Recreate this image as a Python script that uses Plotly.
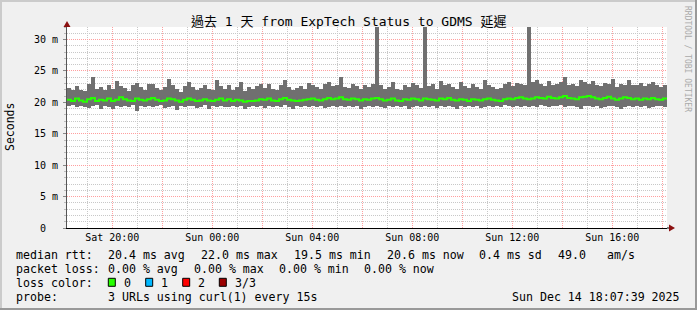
import plotly.graph_objects as go
import pandas as pd

# ---------------- data ----------------
TITLE = "過去 1 天 from ExpTech Status to GDMS 延遲"
START = "2025-12-13 18:11:20"
STEP_SECONDS = 576  # one sample every 9.6 minutes (150 samples over 24 h)

MEDIAN_MS = [
    20.4, 20.2, 20.6, 20.3, 20.1, 20.5, 20.7, 20.2, 20.4, 20.3,
    20.6, 20.2, 20.4, 20.8, 20.5, 20.3, 20.2, 20.6, 20.4, 20.3,
    20.5, 20.7, 20.4, 20.2, 20.3, 20.6, 20.5, 20.3, 20.1, 20.4,
    20.6, 20.4, 20.2, 20.3, 20.5, 20.3, 20.2, 20.4, 20.6, 20.3,
    20.5, 20.2, 20.4, 20.3, 20.1, 20.2, 20.2, 20.3, 20.5, 20.4,
    20.6, 20.3, 20.2, 20.5, 20.7, 20.4, 20.3, 20.2, 20.3, 20.4,
    20.5, 20.6, 20.4, 20.3, 20.5, 20.7, 20.5, 20.6, 20.8, 20.5,
    20.4, 20.6, 20.5, 20.3, 20.5, 20.4, 20.6, 20.7, 20.5, 20.3,
    20.4, 20.6, 20.3, 20.2, 20.5, 20.4, 20.6, 20.5, 20.3, 20.6,
    20.5, 20.4, 20.3, 20.6, 20.5, 20.7, 20.4, 20.3, 20.5, 20.4,
    20.2, 20.5, 20.4, 20.3, 20.5, 20.6, 20.4, 20.3, 20.2, 20.5,
    20.6, 20.5, 20.7, 20.8, 20.6, 20.5, 20.6, 20.8, 20.7, 20.6,
    20.9, 20.7, 20.6, 20.8, 21.0, 20.7, 20.6, 20.5, 20.8, 20.9,
    21.0, 20.8, 20.6, 20.5, 20.7, 20.9, 20.6, 20.4, 20.6, 20.8,
    20.7, 20.5, 20.6, 20.4, 20.6, 20.5, 20.7, 20.5, 20.4, 20.6,
]

MAX_MS = [
    22.3, 21.9, 22.6, 22.0, 21.8, 22.9, 24.0, 22.2, 22.5, 21.9,
    22.8, 22.1, 23.4, 22.6, 22.3, 21.8, 22.7, 23.1, 22.4, 22.0,
    22.9, 23.0, 22.3, 21.9, 22.5, 23.8, 22.7, 22.2, 21.7, 22.6,
    23.2, 22.4, 22.0, 22.3, 22.8, 22.1, 21.9, 23.6, 22.6, 22.2,
    22.7, 22.0, 22.5, 23.3, 21.8, 22.4, 22.1, 22.6, 23.0, 22.3,
    22.9, 22.2, 21.9, 22.7, 23.5, 22.4, 22.0, 22.3, 22.6, 22.1,
    23.1, 22.8, 22.4, 22.2, 22.9, 23.2, 22.6, 22.7, 24.0, 22.5,
    22.3, 23.0, 22.6, 22.1, 22.8, 22.4, 22.9, 40.0, 22.7, 22.2,
    22.5, 23.3, 22.2, 22.0, 22.8, 22.4, 23.1, 22.7, 22.3, 40.0,
    22.6, 22.9, 22.2, 23.4, 22.7, 23.0, 22.4, 22.1, 23.2, 22.6,
    22.3, 22.9, 22.5, 22.2, 23.5, 22.8, 22.4, 22.1, 22.3, 22.9,
    23.3, 22.6, 23.1, 23.0, 22.7, 40.0, 23.2, 23.6, 22.9, 22.6,
    23.4, 22.8, 22.9, 23.2, 24.1, 22.7, 23.0, 22.6, 23.5, 23.3,
    23.0, 23.4, 22.8, 22.6, 23.1, 22.9, 23.7, 22.5, 23.0, 22.7,
    23.6, 22.8, 22.7, 23.1, 22.6, 22.9, 23.3, 22.7, 22.5, 22.8,
]

MIN_MS = [
    19.4, 19.6, 19.2, 19.5, 19.3, 19.1, 19.4, 19.6, 19.0, 19.5,
    19.3, 18.9, 19.4, 19.2, 19.5, 19.3, 19.6, 18.7, 19.4, 19.3,
    19.5, 19.2, 19.4, 19.6, 19.1, 19.3, 19.5, 18.8, 19.4, 19.2,
    19.4, 19.5, 19.1, 19.3, 19.6, 19.0, 19.4, 19.2, 19.5, 19.3,
    19.3, 19.5, 19.2, 19.4, 18.9, 19.3, 19.5, 19.2, 19.4, 19.1,
    19.4, 19.2, 19.5, 19.3, 19.6, 19.2, 19.0, 19.4, 19.3, 19.5,
    19.3, 19.5, 19.2, 19.4, 19.1, 19.3, 19.5, 19.2, 19.4, 19.3,
    19.5, 19.2, 19.4, 19.0, 19.3, 19.5, 19.2, 19.4, 19.3, 19.1,
    19.4, 19.3, 19.5, 19.2, 19.4, 18.9, 19.3, 19.5, 19.2, 19.4,
    19.3, 19.5, 19.1, 19.4, 19.2, 19.5, 19.3, 19.0, 19.4, 19.2,
    19.5, 19.3, 19.4, 19.1, 19.3, 19.5, 19.2, 19.4, 19.3, 19.6,
    19.4, 19.2, 19.5, 19.3, 19.4, 19.2, 19.5, 19.3, 19.6, 19.4,
    19.3, 19.5, 19.4, 19.6, 19.2, 19.4, 19.5, 19.3, 19.0, 19.4,
    19.5, 19.3, 19.4, 19.1, 19.3, 19.5, 19.4, 19.2, 18.9, 19.3,
    19.4, 19.2, 19.5, 19.3, 19.4, 19.1, 19.3, 19.5, 19.4, 19.2,
]

Y_TICK_VALUES = [0, 5, 10, 15, 20, 25, 30]
Y_TICK_LABELS = ["0\u00a0\u00a0", "5 m", "10 m", "15 m", "20 m", "25 m", "30 m"]
X_TICK_LABELS = ["Sat 20:00", "", "Sun 00:00", "", "Sun 04:00", "", "Sun 08:00", "",
                 "Sun 12:00", "", "Sun 16:00", ""]
X_FIRST_TICK = "2025-12-13 20:00"

RTT_LABEL = "median rtt:"
RTT_ITEMS = ["20.4 ms avg", "22.0 ms max", "19.5 ms min", "20.6 ms now", "0.4 ms sd", "49.0", "am/s"]
LOSS_LABEL = "packet loss:"
LOSS_ITEMS = ["0.00 % avg", "0.00 % max", "0.00 % min", "0.00 % now"]
COLOR_LABEL = "loss color:"
LOSS_LABELS = ["0", "1", "2", "3/3"]
LOSS_COLORS = ["#26ff00", "#00b8ff", "#ff0000", "#9c0000"]
PROBE_LABEL = "probe:"
PROBE_TEXT = "3 URLs using curl(1) every 15s"
STAMP = "Sun Dec 14 18:07:39 2025"
WATERMARK = "RRDTOOL / TOBI OETIKER"
Y_TITLE = "Seconds"

# ---------------- geometry helpers ----------------
W_FIG, H_FIG = 697, 310
PL, PR, PT, PB = 67, 30, 27, 82
PW = W_FIG - PL - PR
PH = H_FIG - PT - PB


def px(x):
    return (x - PL) / PW


def py(y):
    return (PT + PH - y) / PH


MONO = "DejaVu Sans Mono, Noto Sans CJK TC, monospace"

start = pd.Timestamp(START)
step = pd.Timedelta(seconds=STEP_SECONDS)
n = len(MEDIAN_MS)
end = start + step * n
centers = [start + step * (i + 0.5) for i in range(n)]
lefts = [start + step * i for i in range(n)] + [end]

fig = go.Figure()

# smoke (min..max range)
fig.add_trace(go.Bar(
    x=centers,
    base=MIN_MS,
    y=[h - l for h, l in zip(MAX_MS, MIN_MS)],
    width=step.total_seconds() * 1000,
    marker=dict(color="#707070", line=dict(width=0)),
    hoverinfo="skip",
    showlegend=False,
))

# median line
fig.add_trace(go.Scatter(
    x=lefts,
    y=MEDIAN_MS + [MEDIAN_MS[-1]],
    mode="lines",
    line=dict(color="#26ff00", width=2, shape="hv"),
    hoverinfo="skip",
    showlegend=False,
))

x_ticks = [pd.Timestamp(X_FIRST_TICK) + pd.Timedelta(hours=2 * i) for i in range(len(X_TICK_LABELS))]

fig.update_layout(
    width=W_FIG, height=H_FIG,
    margin=dict(l=PL, r=PR, t=PT, b=PB, pad=0),
    paper_bgcolor="#f0f0f0",
    plot_bgcolor="#ffffff",
    bargap=0,
    barmode="overlay",
    font=dict(family=MONO, size=10, color="#000000"),
    showlegend=False,
)

fig.update_xaxes(
    type="date",
    range=[start, end],
    tickmode="array",
    tickvals=x_ticks,
    ticktext=X_TICK_LABELS,
    showgrid=True,
    gridcolor="#ff9f9f",
    griddash="1px,1px",
    gridwidth=1,
    minor=dict(dtick=3600000, tick0="2025-12-13 19:00", showgrid=True,
               gridcolor="#c8c8c8", griddash="1px,1px", gridwidth=1),
    showline=True, linecolor="#000000", linewidth=1,
    ticks="", tickfont=dict(family=MONO, size=10),
    zeroline=False, fixedrange=True,
)

fig.update_yaxes(
    range=[0, 32],
    tickmode="array",
    tickvals=Y_TICK_VALUES,
    ticktext=Y_TICK_LABELS,
    showgrid=True,
    gridcolor="#ff9f9f",
    griddash="1px,1px",
    gridwidth=1,
    minor=dict(dtick=1, tick0=0, showgrid=True, gridcolor="#c8c8c8",
               griddash="1px,1px", gridwidth=1, ticks="outside", ticklen=2,
               tickcolor="#bbbbbb"),
    showline=True, linecolor="#555555", linewidth=1,
    ticks="outside", ticklen=3, tickcolor="#888888",
    ticklabelstandoff=3,
    tickfont=dict(family=MONO, size=10),
    zeroline=False, fixedrange=True,
)

shapes = []
# 3D frame of the image
shapes.append(dict(type="line", xref="paper", yref="paper", x0=px(0), x1=px(W_FIG), y0=py(1), y1=py(1),
                   line=dict(color="#cbcbcb", width=2)))
shapes.append(dict(type="line", xref="paper", yref="paper", x0=px(1), x1=px(1), y0=py(0), y1=py(H_FIG),
                   line=dict(color="#cbcbcb", width=2)))
shapes.append(dict(type="line", xref="paper", yref="paper", x0=px(0), x1=px(W_FIG), y0=py(H_FIG - 1), y1=py(H_FIG - 1),
                   line=dict(color="#999999", width=2)))
shapes.append(dict(type="line", xref="paper", yref="paper", x0=px(W_FIG - 1), x1=px(W_FIG - 1), y0=py(0), y1=py(H_FIG),
                   line=dict(color="#999999", width=2)))
# x-axis extension and arrows
shapes.append(dict(type="line", xref="paper", yref="paper", x0=px(PL + PW), x1=px(PL + PW + 3),
                   y0=0, y1=0, line=dict(color="#000000", width=1)))
shapes.append(dict(type="path", xref="paper", yref="paper",
                   path=f"M {px(PL + PW + 2)} {py(PT + PH - 3.5)} L {px(PL + PW + 8)} {py(PT + PH)} L {px(PL + PW + 2)} {py(PT + PH + 3.5)} Z",
                   fillcolor="#8b1010", line=dict(width=0)))
shapes.append(dict(type="path", xref="paper", yref="paper",
                   path=f"M {px(PL - 3.5)} {py(PT)} L {px(PL)} {py(PT - 6)} L {px(PL + 3.5)} {py(PT)} Z",
                   fillcolor="#8b1010", line=dict(width=0)))
# loss colour boxes
box_x = [108.3, 145.7, 182.7, 219.3]
for bx, col in zip(box_x, LOSS_COLORS):
    shapes.append(dict(type="rect", xref="paper", yref="paper",
                       x0=px(bx), x1=px(bx + 7), y0=py(278.3), y1=py(286.3),
                       fillcolor=col, line=dict(color="#000000", width=1)))
fig.update_layout(shapes=shapes)


def nb(s):
    return s.replace(" ", "\u00a0")


ann = []


def put(text, x, y, size=11.6, anchor="left"):
    ann.append(dict(text=nb(text), x=px(x), y=py(y), xref="paper", yref="paper",
                    xanchor=anchor, yanchor="middle", showarrow=False, borderpad=0,
                    font=dict(family=MONO, size=size)))


ann.append(dict(text=nb(TITLE), x=px(348), y=py(21.5), xref="paper", yref="paper",
                xanchor="center", yanchor="middle", showarrow=False,
                font=dict(family=MONO, size=13)))
ann.append(dict(text=Y_TITLE, x=px(10), y=py(127), xref="paper", yref="paper",
                xanchor="center", yanchor="middle", showarrow=False, textangle=-90,
                font=dict(family=MONO, size=11.5)))
ann.append(dict(text=nb(WATERMARK), x=px(688), y=py(59), xref="paper", yref="paper",
                xanchor="center", yanchor="middle", showarrow=False, textangle=90,
                font=dict(family=MONO, size=8, color="#aaaaaa")))

L1, L2, L3, L4 = 254.5, 268.5, 282.5, 296.5
XL = 15.2
put(RTT_LABEL, XL, L1)
for txt, x in zip(RTT_ITEMS, [106.5, 199.5, 292.5, 385.8, 477.8, 557.0, 606.0]):
    put(txt, x, L1)
put(LOSS_LABEL, XL, L2)
for txt, x in zip(LOSS_ITEMS, [106.5, 192.5, 277.7, 363.0]):
    put(txt, x, L2)
put(COLOR_LABEL, XL, L3)
for txt, x in zip(LOSS_LABELS, [122.5, 159.9, 196.6, 233.9]):
    put(txt, x, L3)
put(PROBE_LABEL, XL, L4)
put(PROBE_TEXT, 106.5, L4)
put(STAMP, 680.5, L4, anchor="right")
fig.update_layout(annotations=ann)

fig.write_html("out.html")
